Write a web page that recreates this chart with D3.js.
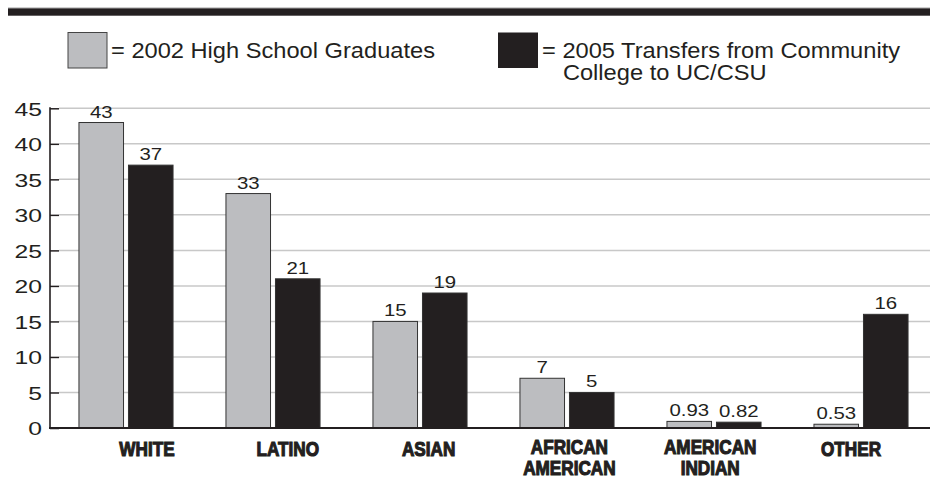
<!DOCTYPE html>
<html>
<head>
<meta charset="utf-8">
<script src="https://cdn.jsdelivr.net/npm/d3@7"></script>
<style>
  html, body { margin: 0; padding: 0; background: #fff; }
  svg { display: block; }
</style>
</head>
<body>
<svg id="chart" width="930" height="479"></svg>
<script>
// ---- data ----
const categories = ["WHITE", "LATINO", "ASIAN", "AFRICAN AMERICAN", "AMERICAN INDIAN", "OTHER"];
const categoryLines = [["WHITE"], ["LATINO"], ["ASIAN"], ["AFRICAN", "AMERICAN"], ["AMERICAN", "INDIAN"], ["OTHER"]];
const seriesNames = ["2002 High School Graduates", "2005 Transfers from Community College to UC/CSU"];
const highSchool2002 = [43, 33, 15, 7, 0.93, 0.53];
const transfers2005 = [37, 21, 19, 5, 0.82, 16];
const yTickValues = [0, 5, 10, 15, 20, 25, 30, 35, 40, 45];

// ---- layout ----
const W = 930, H = 479;
const ink = "#231f20";
const grayFill = "#bcbdc0";
const sans = "'Liberation Sans', Arial, Helvetica, sans-serif";
const svg = d3.select("#chart");

const y = d3.scaleLinear().domain([0, 45]).range([428, 108.3]);
const x = d3.scaleBand().domain(categories).range([52.5, 934.5]).paddingInner(0.36).paddingOuter(0.18);
const xs = d3.scaleBand().domain([0, 1]).range([0, x.bandwidth()]).paddingInner(0.1);
const xLabel = d3.scalePoint().domain(categories).range([147, 851]);

// top rule
svg.append("rect").attr("x", 8).attr("y", 7).attr("width", W - 8).attr("height", 1).attr("fill", "#cfcfcf");
svg.append("rect").attr("x", 8).attr("y", 8.3).attr("width", W - 8).attr("height", 7.4).attr("fill", ink);

// legend
const legend = svg.append("g").attr("font-family", sans).attr("font-size", 21.5).attr("fill", ink);
legend.append("rect").attr("x", 68).attr("y", 32.5).attr("width", 39).attr("height", 35.5)
  .attr("fill", grayFill).attr("stroke", "#444").attr("stroke-width", 1);
legend.append("text").attr("transform", "translate(111,57.5) scale(1.1,1)").text("= " + seriesNames[0]);
legend.append("rect").attr("x", 498).attr("y", 32.5).attr("width", 40).attr("height", 35.5)
  .attr("fill", ink);
const lt = legend.append("text").attr("transform", "translate(542,57.5) scale(1.1,1)");
lt.append("tspan").attr("x", 0).text("= 2005 Transfers from Community");
lt.append("tspan").attr("x", 19).attr("dy", 23).text("College to UC/CSU");

// gridlines
svg.append("g").selectAll("line").data(yTickValues.filter(d => d > 0)).join("line")
  .attr("x1", 59).attr("x2", W)
  .attr("y1", d => y(d)).attr("y2", d => y(d))
  .attr("stroke", "#c8c8c8").attr("stroke-width", 1.5);

// y axis
const yAxis = d3.axisLeft(y).tickValues(yTickValues).tickSize(-9).tickPadding(8);
const gy = svg.append("g").attr("transform", "translate(50,0)").call(yAxis);
gy.select(".domain").remove();
gy.selectAll(".tick line").attr("stroke", ink).attr("stroke-width", 1.5);
gy.selectAll(".tick text")
  .attr("x", null).attr("dy", null)
  .attr("transform", "translate(-8,6.8) scale(1.3,1)")
  .attr("font-family", sans).attr("font-size", 19).attr("fill", ink);
svg.append("line").attr("x1", 50).attr("x2", 50).attr("y1", y(45) - 1).attr("y2", y(0))
  .attr("stroke", ink).attr("stroke-width", 1.6);

// bars
const rows = categories.map((c, i) => ({ c, vals: [highSchool2002[i], transfers2005[i]] }));
const groups = svg.append("g").selectAll("g").data(rows).join("g")
  .attr("transform", d => `translate(${x(d.c)},0)`);
groups.selectAll("rect").data(d => d.vals.map((v, k) => ({ v, k }))).join("rect")
  .attr("x", d => xs(d.k)).attr("width", xs.bandwidth())
  .attr("y", d => y(d.v)).attr("height", d => y(0) - y(d.v))
  .attr("fill", d => d.k === 0 ? grayFill : ink)
  .attr("stroke", "#333").attr("stroke-width", 1);
groups.selectAll("text").data(d => d.vals.map((v, k) => ({ v, k }))).join("text")
  .attr("transform", d => `translate(${xs(d.k) + xs.bandwidth() / 2},${y(d.v) - 5}) scale(1.2,1)`)
  .attr("text-anchor", "middle")
  .attr("font-family", sans)
  .attr("font-size", 17).attr("fill", ink)
  .text(d => String(d.v));

// baseline
svg.append("line").attr("x1", 49).attr("x2", W).attr("y1", y(0)).attr("y2", y(0))
  .attr("stroke", ink).attr("stroke-width", 2);

// category labels (heavy, condensed)
const cl = svg.append("g").selectAll("text").data(categories).join("text")
  .attr("transform", (d, i) => `translate(${xLabel(d)},${categoryLines[i].length > 1 ? 453.5 : 455.5}) scale(0.88,1)`)
  .attr("text-anchor", "middle")
  .attr("font-family", sans).attr("font-weight", "bold").attr("font-size", 19.5)
  .attr("fill", ink).attr("stroke", ink).attr("stroke-width", 1.1);
cl.each(function (d, i) {
  d3.select(this).selectAll("tspan").data(categoryLines[i]).join("tspan")
    .attr("x", 0).attr("dy", (l, j) => j === 0 ? 0 : 21.8).text(l => l);
});
</script>
</body>
</html>
